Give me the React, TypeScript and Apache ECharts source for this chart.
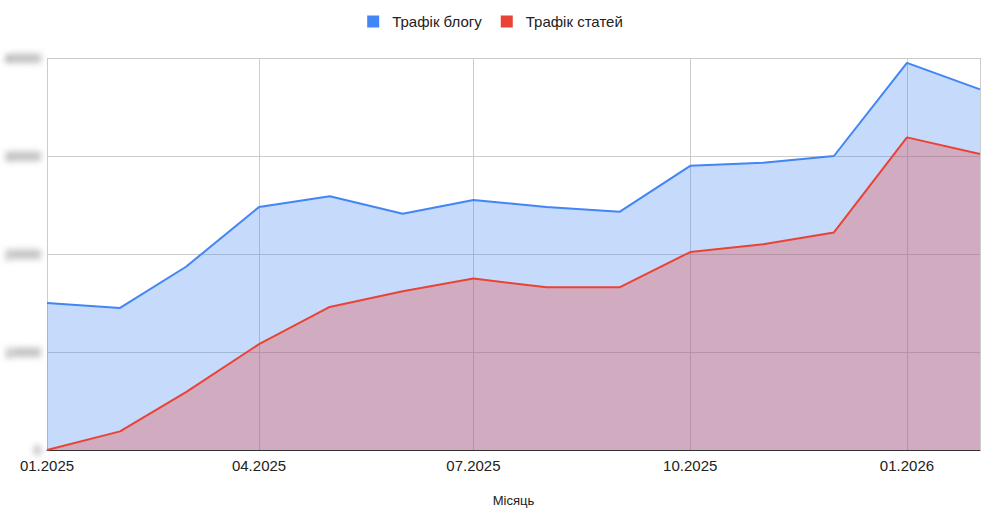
import React, { useEffect, useRef } from "react";
import * as echarts from "echarts";

const months = [
  "2025-01-01", "2025-02-01", "2025-03-01", "2025-04-01", "2025-05-01", "2025-06-01", "2025-07-01",
  "2025-08-01", "2025-09-01", "2025-10-01", "2025-11-01", "2025-12-01", "2026-01-01", "2026-02-01",
];
const blogTraffic = [15000, 14500, 18700, 24800, 25900, 24100, 25500, 24800, 24300, 29000, 29300, 30000, 39500, 36800];
const articleTraffic = [0, 1900, 5900, 10800, 14600, 16200, 17500, 16600, 16600, 20200, 21000, 22200, 31900, 30200];
const seriesNames = ["Трафік блогу", "Трафік статей"];
const yTicks = [0, 10000, 20000, 30000, 40000];
const xAxisTitle = "Місяць";

const FONT = 'Arial, "Liberation Sans", sans-serif';
const DAY = 86400000;

export default function App() {
  const ref = useRef<HTMLDivElement>(null);

  useEffect(() => {
    document.body.style.margin = "0";
    if (!ref.current) return;
    const chart = echarts.init(ref.current, null, { renderer: "svg" });
    const toPairs = (vals: number[]) => months.map((m, i) => [m, vals[i]]);

    chart.setOption({
      animation: false,
      backgroundColor: "#ffffff",
      color: ["#4285F4", "#EA4335"],
      textStyle: { fontFamily: FONT },
      legend: {
        top: 9,
        left: "center",
        itemWidth: 12,
        itemHeight: 12,
        itemGap: 19,
        icon: "rect",
        textStyle: { color: "#222", fontSize: 15, fontFamily: FONT, padding: [0, 0, 0, 8] },
        data: seriesNames,
      },
      grid: { left: 47, right: 10, top: 58, bottom: 70, containLabel: false },
      xAxis: {
        type: "time",
        min: months[0],
        max: months[months.length - 1],
        splitNumber: 4,
        minInterval: 95 * DAY,
        maxInterval: 150 * DAY,
        name: xAxisTitle,
        nameLocation: "middle",
        nameGap: 44,
        nameTextStyle: { color: "#222", fontSize: 13, fontFamily: FONT },
        axisLine: { lineStyle: { color: "#333", width: 1 } },
        axisTick: { show: false },
        axisLabel: {
          color: "#222",
          fontSize: 15,
          fontFamily: FONT,
          margin: 8,
          hideOverlap: false,
          formatter: (v: number) => {
            const d = new Date(v);
            const mm = String(d.getMonth() + 1).padStart(2, "0");
            return `${mm}.${d.getFullYear()}`;
          },
        },
        splitLine: { show: true, lineStyle: { color: "#cccccc", width: 1 } },
      },
      yAxis: {
        type: "value",
        min: yTicks[0],
        max: yTicks[yTicks.length - 1],
        interval: yTicks[1] - yTicks[0],
        axisLine: { show: false },
        axisTick: { show: false },
        axisLabel: {
          color: "#444",
          fontSize: 13,
          fontFamily: FONT,
          margin: 6,
          formatter: (v: number) => String(v),
        },
        splitLine: { lineStyle: { color: "#cccccc", width: 1 } },
      },
      series: [
        {
          name: seriesNames[0],
          type: "line",
          data: toPairs(blogTraffic),
          showSymbol: false,
          lineStyle: { width: 2 },
          areaStyle: { opacity: 0.3 },
          z: 2,
        },
        {
          name: seriesNames[1],
          type: "line",
          data: toPairs(articleTraffic),
          showSymbol: false,
          lineStyle: { width: 2 },
          areaStyle: { opacity: 0.3 },
          z: 3,
        },
      ],
    });

    // Value-axis labels are shown softened.
    const host = ref.current;
    const hostBox = host.getBoundingClientRect();
    const labelSet = new Set(yTicks.map(String));
    host.querySelectorAll("text").forEach((t) => {
      const box = t.getBoundingClientRect();
      if (labelSet.has((t.textContent || "").trim()) && box.right - hostBox.left < 47) {
        (t as SVGTextElement).style.filter = "blur(3px)";
      }
    });

    return () => chart.dispose();
  }, []);

  return <div ref={ref} style={{ width: 990, height: 520 }} />;
}
